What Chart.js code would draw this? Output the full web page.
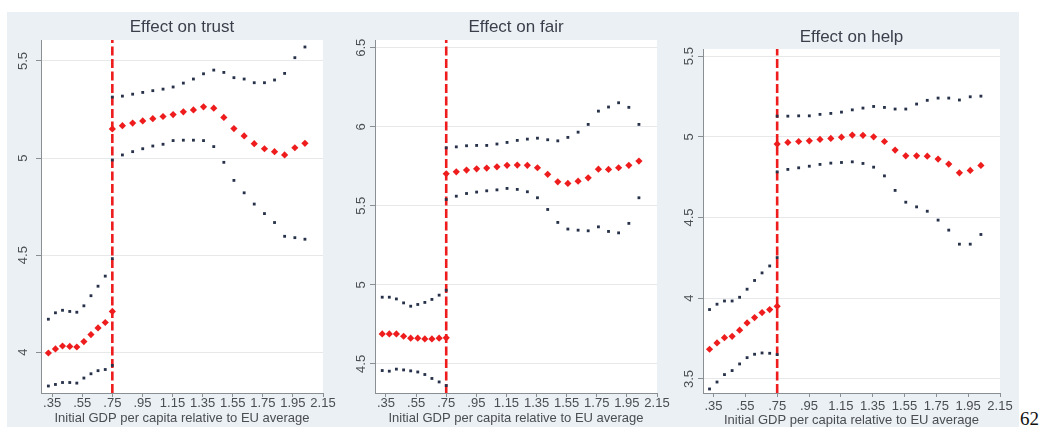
<!DOCTYPE html>
<html>
<head>
<meta charset="utf-8">
<script src="https://cdn.jsdelivr.net/npm/chart.js@4.4.1/dist/chart.umd.min.js"></script>
<style>
html,body{margin:0;padding:0;background:#fff;width:1042px;height:427px;overflow:hidden;}
#bg{position:absolute;left:7px;top:12px;width:1012px;height:415px;background:#eaf0f3;}
canvas{position:absolute;}
#pg{position:absolute;left:1020px;top:409px;font-family:"Liberation Serif","DejaVu Serif",serif;font-size:19px;line-height:1;color:#111;}
</style>
</head>
<body>
<div id="bg"></div>
<canvas id="c1" width="333" height="415" style="left:7px;top:12px"></canvas>
<canvas id="c2" width="330" height="415" style="left:340px;top:12px"></canvas>
<canvas id="c3" width="349" height="415" style="left:670px;top:12px"></canvas>
<div id="pg">62</div>
<script>
// ---- data ----
const xLeft  = [0.325,0.372,0.419,0.467,0.514,0.561,0.608,0.655,0.703,0.75];
const xRight = [0.75,0.817,0.885,0.952,1.019,1.087,1.154,1.222,1.289,1.356,1.424,1.491,1.558,1.626,1.693,1.761,1.828,1.895,1.963,2.03];
const threshold = 0.75;

const xTickValues = [0.35,0.55,0.75,0.95,1.15,1.35,1.55,1.75,1.95,2.15];
const xTickLabels = ['.35','.55','.75','.95','1.15','1.35','1.55','1.75','1.95','2.15'];
const xAxisTitle = 'Initial GDP per capita relative to EU average';
const panelTitles = ['Effect on trust','Effect on fair','Effect on help'];

const trustEstLeft    = [3.996,4.017,4.032,4.030,4.027,4.055,4.091,4.125,4.153,4.210];
const trustEstRight   = [5.150,5.167,5.180,5.191,5.203,5.214,5.224,5.238,5.248,5.264,5.257,5.209,5.152,5.114,5.074,5.048,5.033,5.016,5.053,5.076];
const trustUpperLeft  = [4.170,4.203,4.216,4.210,4.206,4.239,4.291,4.340,4.392,4.482];
const trustUpperRight = [5.314,5.319,5.329,5.338,5.347,5.355,5.366,5.386,5.407,5.434,5.453,5.441,5.414,5.407,5.388,5.388,5.402,5.436,5.517,5.572];
const trustLowerLeft  = [3.826,3.834,3.844,3.844,3.841,3.867,3.889,3.905,3.911,3.932];
const trustLowerRight = [4.990,5.016,5.033,5.048,5.062,5.071,5.090,5.092,5.092,5.090,5.059,4.978,4.885,4.821,4.763,4.714,4.668,4.597,4.590,4.582];
const trustYTicks = [4,4.5,5,5.5];
const trustYLabels = ['4','4.5','5','5.5'];

const fairEstLeft    = [4.690,4.690,4.690,4.675,4.663,4.663,4.658,4.658,4.663,4.665];
const fairEstRight   = [5.703,5.715,5.726,5.734,5.739,5.747,5.756,5.758,5.756,5.741,5.699,5.652,5.642,5.656,5.677,5.732,5.730,5.741,5.756,5.783];
const fairUpperLeft  = [4.922,4.922,4.911,4.886,4.865,4.876,4.889,4.908,4.935,4.966];
const fairUpperRight = [5.867,5.873,5.880,5.882,5.882,5.891,5.901,5.914,5.922,5.928,5.918,5.911,5.933,5.966,6.015,6.099,6.125,6.152,6.123,6.015];
const fairLowerLeft  = [4.458,4.454,4.467,4.462,4.456,4.449,4.433,4.408,4.386,4.363];
const fairLowerRight = [5.540,5.561,5.578,5.587,5.595,5.601,5.610,5.604,5.589,5.551,5.477,5.395,5.353,5.346,5.342,5.367,5.338,5.329,5.389,5.551];
const fairYTicks = [4.5,5,5.5,6,6.5];
const fairYLabels = ['4.5','5','5.5','6','6.5'];

const helpEstLeft    = [3.684,3.723,3.756,3.764,3.802,3.847,3.880,3.911,3.930,3.950];
const helpEstRight   = [4.955,4.965,4.971,4.975,4.984,4.990,4.998,5.011,5.009,5.000,4.971,4.918,4.882,4.882,4.880,4.862,4.831,4.777,4.792,4.823];
const helpUpperLeft  = [3.930,3.963,3.983,3.983,4.006,4.056,4.110,4.157,4.200,4.252];
const helpUpperRight = [5.128,5.128,5.130,5.130,5.139,5.145,5.153,5.167,5.178,5.188,5.182,5.172,5.172,5.203,5.226,5.240,5.240,5.228,5.248,5.252];
const helpLowerLeft  = [3.438,3.481,3.527,3.552,3.593,3.632,3.653,3.661,3.659,3.651];
const helpLowerRight = [4.783,4.798,4.808,4.818,4.829,4.837,4.841,4.845,4.835,4.812,4.758,4.668,4.595,4.566,4.539,4.484,4.422,4.335,4.335,4.395];
const helpYTicks = [3.5,4,4.5,5,5.5];
const helpYLabels = ['3.5','4','4.5','5','5.5'];

// ---- styling ----
const FONT = '"Liberation Sans", Arial, Helvetica, sans-serif';
const RED = '#ee1c1c';
const DOT = '#27324a';
const AXIS = '#8a8f94';
const TXT = '#4a4d52';
const TITLE = '#3a3f4b';

function pts(xs, ys){ return xs.map((x,i)=>({x:x, y:ys[i]})); }

function makePanel(id, p){
  const xAll = xLeft.concat(xRight);
  const panelPlugin = {
    id:'panelText',
    beforeDraw(chart){
      const c = chart.ctx, a = chart.chartArea;
      c.save();
      c.fillStyle = '#ffffff';
      c.fillRect(a.left, a.top, a.right - a.left, a.bottom - a.top);
      c.restore();
    },
    afterDraw(chart){
      const c = chart.ctx, a = chart.chartArea, ys = chart.scales.y;
      c.save();
      c.fillStyle = TITLE;
      c.font = '17px ' + FONT;
      c.textAlign = 'center';
      c.textBaseline = 'middle';
      c.fillText(p.title, (a.left + a.right)/2, p.titleY);
      c.fillStyle = TXT;
      c.font = '13px ' + FONT;
      p.yTicks.forEach((v,i)=>{
        const y = ys.getPixelForValue(v);
        c.save();
        c.translate(a.left - p.yLabelOff, y);
        c.rotate(-Math.PI/2);
        c.fillText(p.yLabels[i], 0, 0);
        c.restore();
      });
      c.restore();
    }
  };
  new Chart(document.getElementById(id), {
    type:'scatter',
    data:{ datasets:[
      {data:pts(xAll, p.estLeft.concat(p.estRight)), pointStyle:'rectRot', pointRadius:3.6, pointHoverRadius:3.6, backgroundColor:RED, borderWidth:0},
      {data:pts(xAll, p.upLeft.concat(p.upRight)), pointStyle:'rect', pointRadius:2, pointHoverRadius:2, backgroundColor:DOT, borderWidth:0},
      {data:pts(xAll, p.loLeft.concat(p.loRight)), pointStyle:'rect', pointRadius:2, pointHoverRadius:2, backgroundColor:DOT, borderWidth:0},
      {type:'line', data:[{x:threshold, y:p.ymin},{x:threshold, y:p.ymax}], borderColor:RED, borderWidth:2.6, borderDash:[9,3.5], pointRadius:0, pointHoverRadius:0, fill:false}
    ]},
    options:{
      responsive:false, animation:false, devicePixelRatio:1, events:[],
      layout:{autoPadding:false, padding:{left:0, right:p.padR, top:p.padT, bottom:0}},
      plugins:{legend:{display:false}, tooltip:{enabled:false}, title:{display:false}},
      scales:{
        x:{type:'linear', min:p.xmin, max:2.15,
           afterBuildTicks:s=>{ s.ticks = xTickValues.map(v=>({value:v})); },
           afterFit:s=>{ s.height = 34; },
           grid:{drawOnChartArea:false, drawTicks:true, tickLength:4, tickColor:AXIS},
           border:{display:true, color:AXIS, width:1},
           ticks:{autoSkip:false, maxRotation:0, minRotation:0, padding:p.xTickPad, color:TXT,
                  font:{family:FONT, size:13, lineHeight:1}, callback:(v,i)=>xTickLabels[i]},
           title:{display:true, text:xAxisTitle, color:TXT, font:{family:FONT, size:13, lineHeight:1}, padding:{top:0, bottom:p.xTitlePad}}
        },
        y:{type:'linear', min:p.ymin, max:p.ymax,
           afterBuildTicks:s=>{ s.ticks = p.yTicks.map(v=>({value:v})); },
           afterFit:s=>{ s.width = p.yW; },
           grid:{color:'#e6e8ea', lineWidth:1, drawTicks:true, tickLength:5, tickColor:AXIS},
           border:{display:true, color:AXIS, width:1},
           ticks:{display:false}
        }
      }
    },
    plugins:[panelPlugin]
  });
}

makePanel('c1', {title:panelTitles[0], titleY:15.3, yLabelOff:18, padR:17, padT:28, yW:34, xTickPad:0, xTitlePad:2.2,
  xmin:0.276, ymin:3.79, ymax:5.608, yTicks:trustYTicks, yLabels:trustYLabels,
  estLeft:trustEstLeft, estRight:trustEstRight, upLeft:trustUpperLeft, upRight:trustUpperRight, loLeft:trustLowerLeft, loRight:trustLowerRight});
makePanel('c2', {title:panelTitles[1], titleY:15.3, yLabelOff:14, padR:13, padT:28, yW:35, xTickPad:0, xTitlePad:2.2,
  xmin:0.277, ymin:4.316, ymax:6.549, yTicks:fairYTicks, yLabels:fairYLabels,
  estLeft:fairEstLeft, estRight:fairEstRight, upLeft:fairUpperLeft, upRight:fairUpperRight, loLeft:fairLowerLeft, loRight:fairLowerRight});
makePanel('c3', {title:panelTitles[2], titleY:25.7, yLabelOff:14, padR:19, padT:37, yW:33, xTickPad:3, xTitlePad:0.5,
  xmin:0.284, ymin:3.413, ymax:5.544, yTicks:helpYTicks, yLabels:helpYLabels,
  estLeft:helpEstLeft, estRight:helpEstRight, upLeft:helpUpperLeft, upRight:helpUpperRight, loLeft:helpLowerLeft, loRight:helpLowerRight});
</script>
</body>
</html>
